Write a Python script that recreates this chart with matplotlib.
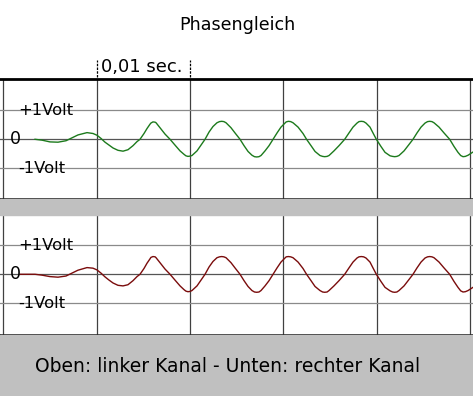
import matplotlib.pyplot as plt
from matplotlib.patches import Rectangle

# Zeit in ms, Spannung in Volt
t_ms = [3.38, 4.13, 4.98, 5.84, 6.70, 7.34, 7.98, 8.95, 9.59, 10.02, 10.45, 10.88,
        11.31, 11.74, 12.27, 12.81, 13.34, 13.88, 14.31, 14.63, 15.06, 15.38, 15.70,
        15.8, 16.02, 16.25, 16.35, 16.77, 17.31, 17.85, 18.38, 18.92, 19.35,
        19.55, 19.77, 20.0, 20.20, 20.74,
        21.17, 21.60, 22.03, 22.45, 22.88, 23.15, 23.39, 23.62, 23.85, 24.38, 24.81,
        25.35, 25.78, 26.21, 26.63, 26.9, 27.14, 27.38, 27.60, 28.03, 28.46, 28.89,
        29.32, 29.74, 30.17, 30.3, 30.53, 30.78, 31.03, 31.57, 32.10, 32.48, 32.96,
        33.39, 33.92, 34.2, 34.43, 34.68, 34.89, 35.42, 35.96, 36.57, 37.03, 37.46,
        37.89, 38.1, 38.35, 38.6, 38.85, 39.28, 39.60, 39.96, 40.46, 40.89, 41.43,
        41.7, 41.93, 42.16, 42.39, 42.93, 43.46, 43.89, 44.32, 44.75, 45.18, 45.45,
        45.68, 45.92, 46.14, 46.68, 47.21, 47.82, 48.29, 48.71, 49.0, 49.25, 49.5,
        49.79, 50.32]

u_links = [0.0, -0.03, -0.09, -0.1, -0.05, 0.05, 0.15, 0.23, 0.2, 0.14, 0.03, -0.1,
           -0.2, -0.3, -0.38, -0.41, -0.36, -0.22, -0.08, 0.0, 0.2, 0.37, 0.52,
           0.56, 0.6, 0.59, 0.57, 0.4, 0.18, 0.0, -0.2, -0.4, -0.52,
           -0.57, -0.59, -0.58, -0.56, -0.4,
           -0.2, 0.0, 0.25, 0.44, 0.57, 0.61, 0.62, 0.61, 0.57, 0.4, 0.22,
           0.0, -0.22, -0.42, -0.55, -0.6, -0.61, -0.6, -0.56, -0.4, -0.22, 0.0,
           0.22, 0.42, 0.56, 0.6, 0.62, 0.61, 0.57, 0.42, 0.2, 0.0, -0.22,
           -0.42, -0.56, -0.59, -0.6, -0.59, -0.56, -0.4, -0.22, 0.0, 0.22, 0.42,
           0.56, 0.61, 0.62, 0.61, 0.56, 0.42, 0.22, 0.0, -0.25, -0.45, -0.57,
           -0.59, -0.6, -0.59, -0.56, -0.4, -0.18, 0.0, 0.22, 0.42, 0.56, 0.61,
           0.62, 0.61, 0.57, 0.42, 0.22, 0.0, -0.25, -0.45, -0.56, -0.6, -0.59,
           -0.55, -0.44]

t_rechts = [1.8] + t_ms
u_rechts = [0.0, 0.0, -0.03, -0.08, -0.1, -0.06, 0.04, 0.14, 0.23, 0.21, 0.15, 0.04, -0.09,
            -0.2, -0.3, -0.38, -0.4, -0.36, -0.22, -0.08, 0.0, 0.2, 0.38, 0.53,
            0.58, 0.61, 0.6, 0.57, 0.4, 0.18, 0.0, -0.2, -0.4, -0.53,
            -0.58, -0.6, -0.59, -0.56, -0.4,
            -0.2, 0.0, 0.25, 0.44, 0.57, 0.6, 0.61, 0.6, 0.57, 0.4, 0.22,
            0.0, -0.22, -0.42, -0.56, -0.61, -0.62, -0.61, -0.56, -0.4, -0.22, 0.0,
            0.22, 0.42, 0.56, 0.6, 0.61, 0.6, 0.57, 0.42, 0.2, 0.0, -0.22,
            -0.42, -0.56, -0.61, -0.62, -0.61, -0.56, -0.4, -0.22, 0.0, 0.22, 0.42,
            0.56, 0.6, 0.61, 0.6, 0.56, 0.42, 0.22, 0.0, -0.25, -0.45, -0.57,
            -0.61, -0.62, -0.61, -0.56, -0.4, -0.18, 0.0, 0.22, 0.42, 0.56, 0.6,
            0.61, 0.6, 0.57, 0.42, 0.22, 0.0, -0.25, -0.45, -0.57, -0.61, -0.6,
            -0.56, -0.45]

raster_ms = [0, 10, 20, 30, 40, 50]

W, H = 473, 396
fig = plt.figure(figsize=(W / 100, H / 100), dpi=100)
fig.patch.set_facecolor('white')

grau = '#c0c0c0'
fig.patches.append(Rectangle((0, 0), 1, (H - 335) / H, transform=fig.transFigure,
                             color=grau, zorder=0))
fig.patches.append(Rectangle((0, (H - 215) / H), 1, 16 / H, transform=fig.transFigure,
                             color=grau, zorder=0))


def panel(rect, t, u, farbe, ylim, top_lw):
    ax = fig.add_axes(rect)
    ax.set_xlim(-0.375, 50.32)
    ax.set_ylim(*ylim)
    for x in raster_ms:
        ax.axvline(x, color='#404040', lw=0.9, zorder=1)
    ax.axhline(1, color='#8a8a8a', lw=0.9, zorder=1)
    ax.axhline(-1, color='#8a8a8a', lw=0.9, zorder=1)
    ax.axhline(0, color='#555555', lw=0.9, zorder=1)
    ax.plot(t, u, color=farbe, lw=1.0, zorder=2, solid_joinstyle='round')
    ax.set_xticks([])
    ax.set_yticks([])
    ax.spines['left'].set_visible(False)
    ax.spines['right'].set_visible(False)
    ax.spines['top'].set_linewidth(top_lw)
    ax.spines['bottom'].set_linewidth(1.1)
    ax.text(1.55, 1, '+1Volt', fontsize=11.8, ha='left', va='center', zorder=3)
    ax.text(1.25, 0, '0', fontsize=12.5, ha='center', va='center', zorder=3)
    ax.text(1.55, -1, '-1Volt', fontsize=11.8, ha='left', va='center', zorder=3)
    return ax


ax1 = panel([0, (H - 199) / H, 1, 120 / H], t_ms, u_links, '#1c7a1c', (-2.06, 2.08), 2.0)
ax2 = panel([0, (H - 335) / H, 1, 120 / H], t_rechts, u_rechts, '#7a0c0c', (-2.09, 2.04), 1.2)

# Zeitmarke 0,01 sec.
ax1.vlines([10, 20], 2.15, 2.75, colors='black', lw=0.9, linestyles=(0, (2, 1)),
           clip_on=False)
fig.text(142 / W, 1 - 67 / H, '0,01 sec.', fontsize=13, ha='center', va='center')

fig.text(237 / W, 1 - 25 / H, 'Phasengleich', fontsize=12.6, ha='center', va='center')
fig.text(228 / W, 1 - 367 / H, 'Oben: linker Kanal - Unten: rechter Kanal',
         fontsize=13.5, ha='center', va='center')

fig.savefig('out.png', dpi=100)
